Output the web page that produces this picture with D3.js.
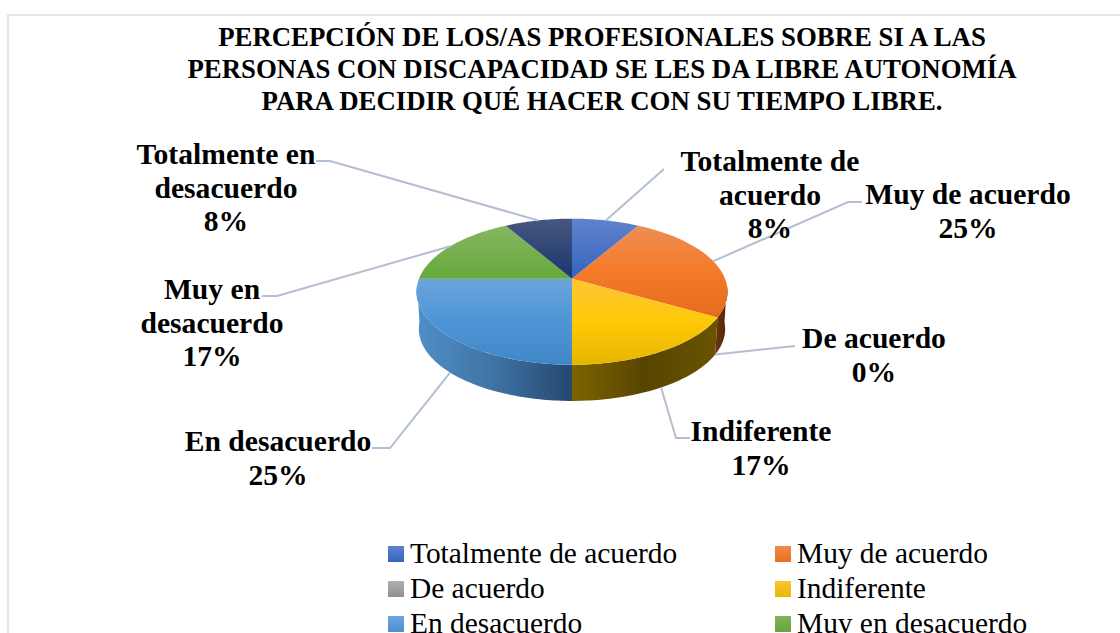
<!DOCTYPE html>
<html><head><meta charset="utf-8">
<script src="https://cdnjs.cloudflare.com/ajax/libs/d3/7.8.5/d3.min.js"></script>
<style>html,body{margin:0;padding:0;background:#fff;overflow:hidden}svg{display:block}text{font-family:"Liberation Serif",serif;fill:#000}</style>
</head><body><svg id="c" width="1120" height="633"></svg>
<script>
const categories = ["Totalmente de acuerdo","Muy de acuerdo","De acuerdo","Indiferente","En desacuerdo","Muy en desacuerdo","Totalmente en desacuerdo"];
const values = [1,3,0,2,3,2,1];
const titleLines = ["PERCEPCIÓN DE LOS/AS PROFESIONALES SOBRE SI A LAS","PERSONAS CON DISCAPACIDAD SE LES DA LIBRE AUTONOMÍA","PARA DECIDIR QUÉ HACER CON SU TIEMPO LIBRE."];
const labelLines = [["Totalmente de","acuerdo"],["Muy de acuerdo"],["De acuerdo"],["Indiferente"],["En desacuerdo"],["Muy en","desacuerdo"],["Totalmente en","desacuerdo"]];

// styling and layout, separate from the data
const topStops = [["#5f82cc","#3564bf"],["#ee8d55","#f47b28","#e66c1c"],["#b5b5b5","#909090"],["#fdc437","#ffc908","#e6b600"],["#6ca4dc","#4d95d6","#3f87c6"],["#85b662","#67a93b"],["#46577f","#1b356f"]];
const sideStops = [null,["#6b3510","#4f2606"],null,["#7d6300","#574500","#6a5400"],["#508fca","#3f73a3","#24486f"],null,null];
const legendColors = [["#5f82cc","#3564bf"],["#f08a4e","#e96f1d"],["#b0b0b0","#8f8f8f"],["#fdc437","#e9b800"],["#6ba5dd","#4a90d0"],["#80b35c","#66a63a"]];
const labelLayout = [
 {x:770,y:171,elbow:[664,169],end:[664,169]},
 {x:968,y:204,elbow:[848,202],end:[862,202]},
 {x:874,y:348,elbow:[795,346],end:[795,346]},
 {x:761,y:441,elbow:[676,438],end:[690,438]},
 {x:278,y:451,elbow:[390,448],end:[372,448]},
 {x:212,y:299,elbow:[277,296],end:[262,296]},
 {x:226,y:164,elbow:[330,161],end:[316,161]}
];
const geo = {cx:572, cy:278.7, B:153, A:70.7, k:0.178, depth:37.5, lowerScale:0.985};
const labelFont = 29.6, lineGap = 33.6;

const svg = d3.select("#c");
const defs = svg.append("defs");
function grad(id, stops, x1,y1,x2,y2){
  const g = defs.append("linearGradient").attr("id",id).attr("gradientUnits","userSpaceOnUse")
    .attr("x1",x1).attr("y1",y1).attr("x2",x2).attr("y2",y2);
  stops.forEach((c,i)=>g.append("stop").attr("offset",i/(stops.length-1)).attr("stop-color",c));
}
// frame
svg.append("path").attr("d","M8,633V15H1120").attr("fill","none").attr("stroke","#e1e7ed").attr("stroke-width",2);

// title
svg.append("g").selectAll("text").data(titleLines).join("text")
  .attr("x",602).attr("y",(d,i)=>46+i*32).attr("text-anchor","middle")
  .attr("font-size",26.8).attr("font-weight","bold").text(d=>d);

// perspective disc
const rimX = d3.scaleLinear().domain([-1,1]).range([-geo.B,geo.B]);
const rimY = d3.scaleLinear().domain([-1,1]).range([-geo.A,geo.A]);
function rim(theta, lower){
  const X=Math.sin(theta), Y=-Math.cos(theta), d=1-geo.k*Y, s=lower?geo.lowerScale:1;
  return [geo.cx+rimX(X)/d*s, geo.cy+rimY(Y)/d*s+(lower?geo.depth:0)];
}
function arcPts(a0,a1,lower){
  const n=Math.max(2,Math.ceil(Math.abs(a1-a0)/0.02));
  return d3.range(n+1).map(i=>rim(a0+(a1-a0)*i/n,lower));
}
const pieGen = d3.pie().sort(null).value(d=>d);
const arcs = pieGen(values);
const line = d3.line();

// side wall
const visA = 95*Math.PI/180, visB = 265*Math.PI/180;
const sides = svg.append("g");
arcs.forEach((a,i)=>{
  if(!sideStops[i]) return;
  const a0=Math.max(a.startAngle,visA), a1=Math.min(a.endAngle,visB);
  if(a1<=a0) return;
  const up=arcPts(a0,a1,false), lo=arcPts(a0,a1,true).reverse();
  const xs=up.concat(lo).map(p=>p[0]);
  grad("s"+i,sideStops[i],d3.min(xs),0,d3.max(xs),0);
  sides.append("path").attr("d",line(up.concat(lo))+"Z").attr("fill",`url(#s${i})`);
});

// top face
const tops = svg.append("g");
arcs.forEach((a,i)=>{
  if(a.endAngle-a.startAngle<=0) return;
  const pts=[[geo.cx,geo.cy]].concat(arcPts(a.startAngle,a.endAngle,false));
  const ys=pts.map(p=>p[1]);
  grad("t"+i,topStops[i],0,d3.min(ys),0,d3.max(ys));
  tops.append("path").attr("d",line(pts)+"Z").attr("fill",`url(#t${i})`);
});

// leaders and labels
const total=d3.sum(values), pct=d3.format(".0%");
const leaders=svg.append("g").attr("fill","none").attr("stroke","#b3bfd0").attr("stroke-width",2);
const labels=svg.append("g");
arcs.forEach((a,i)=>{
  const L=labelLayout[i], mid=(a.startAngle+a.endAngle)/2;
  const lower=Math.cos(mid)<-0.2 || a.endAngle===a.startAngle;
  leaders.append("path").attr("d",line([rim(mid,lower),L.elbow,L.end]));
  const lines=labelLines[i].concat(pct(values[i]/total));
  labels.append("g").selectAll("text").data(lines).join("text")
    .attr("x",L.x).attr("y",(d,j)=>L.y+j*lineGap).attr("text-anchor","middle")
    .attr("font-size",labelFont).attr("font-weight","bold").text(d=>d);
});

// legend
const legX=[388,775], legY=[554,589,624];
const leg=svg.append("g");
categories.slice(0,6).forEach((c,i)=>{
  const x=legX[i%2], y=legY[Math.floor(i/2)];
  grad("l"+i,legendColors[i],0,y-8,0,y+8);
  leg.append("rect").attr("x",x).attr("y",y-8).attr("width",16).attr("height",16).attr("fill",`url(#l${i})`);
  leg.append("text").attr("x",x+22).attr("y",y+9).attr("font-size",29.4).text(c);
});
</script></body></html>
